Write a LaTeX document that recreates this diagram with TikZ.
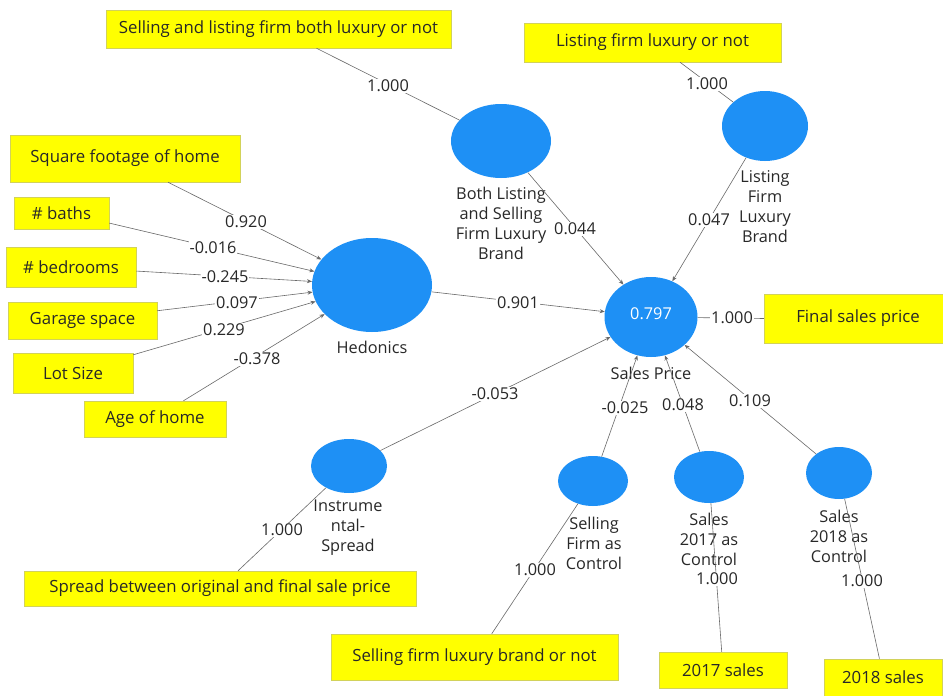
\documentclass[tikz,border=0pt]{standalone}
\usepackage{fontspec}
\setmainfont{Open Sans}
\usetikzlibrary{shapes.geometric,arrows.meta,calc}
\definecolor{lvblue}{RGB}{30,144,245}
\definecolor{boxyellow}{RGB}{255,255,0}
\definecolor{boxedge}{RGB}{210,210,90}
\definecolor{edgegray}{RGB}{105,105,105}
\definecolor{txt}{RGB}{40,40,40}
\begin{document}
\begin{tikzpicture}[x=1pt,y=-1pt,
  ind/.style={draw=boxedge,fill=boxyellow,line width=0.5pt,inner sep=0pt,font=\fontsize{16.8}{18}\selectfont,text=txt},
  lv/.style={ellipse,fill=lvblue,inner sep=0pt},
  lvlab/.style={align=center,font=\fontsize{16.3}{20}\selectfont,text=txt},
  wt/.style={fill=white,inner sep=1pt,font=\fontsize{16.3}{18}\selectfont,text=txt},
  conn/.style={draw=edgegray,line width=0.6pt},
  arr/.style={conn,-{Stealth[length=5pt,width=4pt]}}
]
\path[use as bounding box,fill=white] (0,0) rectangle (943,696);

% latent variables
\node[lv,minimum width=120pt,minimum height=94pt] (hed) at (372,285) {};
\node[lv,minimum width=93pt,minimum height=80pt] (spc) at (651,317) {};
\node[lv,minimum width=100pt,minimum height=74pt] (both) at (501,141) {};
\node[lv,minimum width=86pt,minimum height=70pt] (lfb) at (765,126) {};
\node[lv,minimum width=76pt,minimum height=54pt] (ins) at (349,466) {};
\node[lv,minimum width=70pt,minimum height=50pt] (sfc) at (593,481) {};
\node[lv,minimum width=70pt,minimum height=52pt] (c17) at (709,477) {};
\node[lv,minimum width=66pt,minimum height=52pt] (c18) at (839,473) {};

% latent labels
\node[text=white,font=\fontsize{16.3}{18}\selectfont] (r2) at (651,314) {0.797};
\node[lvlab] (hedl) at (372,347) {Hedonics};
\node[lvlab] (spcl) at (651,373) {Sales Price};
\node[lvlab] (bothl) at (501,223) {Both Listing\\and Selling\\Firm Luxury\\Brand};
\node[lvlab] (lfbl) at (765,207) {Listing\\Firm\\Luxury\\Brand};
\node[lvlab] (insl) at (348,528) {Instrume\\ntal-\\Spread};
\node[lvlab] (sfcl) at (594,543) {Selling\\Firm as\\Control};
\node[lvlab] (c17l) at (709,539) {Sales\\2017 as\\Control};
\node[lvlab] (c18l) at (839,536) {Sales\\2018 as\\Control};

% indicators
\node[ind,minimum width=345pt,minimum height=38pt] (sl) at (278.5,29) {Selling and listing firm both luxury or not};
\node[ind,minimum width=257pt,minimum height=39pt] (lf) at (652.5,42.5) {Listing firm luxury or not};
\node[ind,minimum width=230pt,minimum height=47pt] (sq) at (125,158.5) {Square footage of home};
\node[ind,minimum width=95pt,minimum height=32pt] (ba) at (61.5,213) {\# baths};
\node[ind,minimum width=130pt,minimum height=40pt] (bd) at (71,267) {\# bedrooms};
\node[ind,minimum width=149pt,minimum height=37pt] (gs) at (82.5,320.5) {Garage space};
\node[ind,minimum width=120pt,minimum height=40pt] (ls) at (73,373) {Lot Size};
\node[ind,minimum width=142pt,minimum height=36pt] (ag) at (155,419) {Age of home};
\node[ind,minimum width=188pt,minimum height=49pt] (fs) at (858,318.5) {Final sales price};
\node[ind,minimum width=392pt,minimum height=35pt] (spr) at (220,588.5) {Spread between original and final sale price};
\node[ind,minimum width=287pt,minimum height=46pt] (sf) at (474.5,657) {Selling firm luxury brand or not};
\node[ind,minimum width=128pt,minimum height=36pt] (s17) at (723,670) {2017 sales};
\node[ind,minimum width=118pt,minimum height=37pt] (s18) at (883,677.5) {2018 sales};

% attachment points on indicators
\coordinate (sl-o) at ($(sl.south west)!0.61!(sl.south east)$);
\coordinate (lf-o) at ($(lf.south west)!0.607!(lf.south east)$);
\coordinate (sq-o) at ($(sq.south west)!0.687!(sq.south east)$);
\coordinate (ba-o) at ($(ba.north east)!0.81!(ba.south east)$);
\coordinate (bd-o) at ($(bd.north east)!0.6!(bd.south east)$);
\coordinate (gs-o) at ($(gs.north east)!0.24!(gs.south east)$);
\coordinate (ls-o) at ($(ls.north east)!0.05!(ls.south east)$);
\coordinate (ag-o) at ($(ag.north west)!0.70!(ag.north east)$);
\coordinate (spr-o) at ($(spr.north west)!0.546!(spr.north east)$);
\coordinate (sf-o) at ($(sf.north west)!0.56!(sf.north east)$);
\coordinate (s17-o) at ($(s17.north west)!0.49!(s17.north east)$);
\coordinate (s18-o) at ($(s18.north west)!0.47!(s18.north east)$);

% connectors
\draw[conn] (sl-o) -- (both);
\draw[conn] (lf-o) -- (lfb);
\draw[arr] (sq-o) -- (hed);
\draw[arr] (ba-o) -- (hed);
\draw[arr] (bd-o) -- (hed);
\draw[arr] (gs-o) -- (hed);
\draw[arr] (ls-o) -- (hed);
\draw[arr] (ag-o) -- (hed);
\draw[arr] (hed) -- (spc);
\draw[arr] (both) -- (spc);
\draw[arr] (lfb) -- (spc);
\draw[arr] (ins) -- (spc);
\draw[arr] (sfc) -- (spc);
\draw[arr] (c17) -- (spc);
\draw[arr] (c18) -- (spc);
\draw[conn] (spc) -- (fs.west);
\draw[conn] (spr-o) -- (ins);
\draw[conn] (sf-o) -- (sfc);
\draw[conn] (s17-o) -- (c17);
\draw[conn] (s18-o) -- (c18);

% weights
\node[wt] (w1) at (388,86) {1.000};
\node[wt] (w2) at (707,84) {1.000};
\node[wt] (w3) at (246,222) {0.920};
\node[wt] (w4) at (213,248) {-0.016};
\node[wt] (w5) at (225,277) {-0.245};
\node[wt] (w6) at (237,303) {0.097};
\node[wt] (w7) at (224,330) {0.229};
\node[wt] (w8) at (257,359) {-0.378};
\node[wt] (w9) at (518,303) {0.901};
\node[wt] (w10) at (575,229) {0.044};
\node[wt] (w11) at (709,220) {0.047};
\node[wt] (w12) at (732,318) {1.000};
\node[wt] (w13) at (495,394) {-0.053};
\node[wt] (w14) at (625,408) {-0.025};
\node[wt] (w15) at (683,405) {0.048};
\node[wt] (w16) at (750,401) {0.109};
\node[wt] (w17) at (282,530) {1.000};
\node[wt] (w18) at (535,570) {1.000};
\node[wt] (w19) at (717,579) {1.000};
\node[wt] (w20) at (862,581) {1.000};
\end{tikzpicture}
\end{document}
